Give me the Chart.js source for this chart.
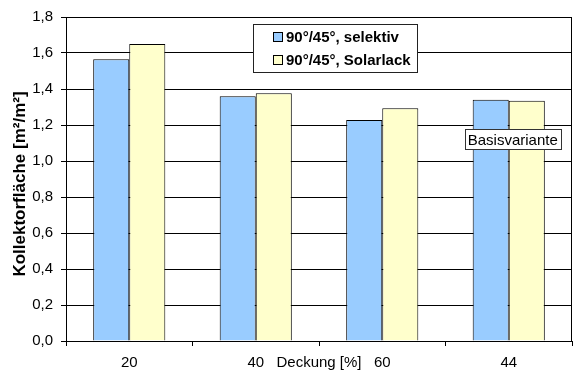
<!DOCTYPE html>
<html>
<head>
<meta charset="utf-8">
<script src="https://cdn.jsdelivr.net/npm/chart.js@4"></script>
<style>
  html, body { margin: 0; padding: 0; background: #fff; }
  #wrap { width: 573px; height: 372px; }
</style>
</head>
<body>
<div id="wrap"><canvas id="kollektorChart" width="573" height="372"></canvas></div>
<script>
const categories = ['20', '40', '60', '44'];
const selektiv = [1.565, 1.36, 1.228, 1.34];
const solarlack = [1.65, 1.377, 1.293, 1.335];
const seriesNames = ['90°/45°, selektiv', '90°/45°, Solarlack'];
const yMax = 1.8;
const yStep = 0.2;

const FONT = '"Liberation Sans", Arial, sans-serif';

// frame, y title, legend box, x title and the "Basisvariante" note
const extras = {
  id: 'extras',
  afterDraw(chart) {
    const ctx = chart.ctx;
    const a = chart.chartArea;
    const x = chart.scales.x, y = chart.scales.y;
    ctx.save();
    ctx.strokeStyle = '#000';
    ctx.lineWidth = 1;
    ctx.strokeRect(Math.round(a.left) + 0.5, Math.round(a.top) + 0.5,
      Math.round(a.right - a.left) - 1, Math.round(a.bottom - a.top));

    // y title
    ctx.save();
    ctx.translate(20, 184);
    ctx.rotate(-Math.PI / 2);
    ctx.font = 'bold 17px ' + FONT;
    ctx.textAlign = 'center';
    ctx.textBaseline = 'middle';
    ctx.fillStyle = '#000';
    ctx.fillText('Kollektorfläche [m²/m²]', 0, 0);
    ctx.restore();

    // legend
    const lx = 253, ly = 24, lw = 164, lh = 48;
    ctx.fillStyle = '#fff';
    ctx.fillRect(lx, ly, lw, lh);
    ctx.strokeStyle = '#222';
    ctx.strokeRect(lx + 0.5, ly + 0.5, lw, lh);
    ctx.font = 'bold 15px ' + FONT;
    ctx.textBaseline = 'middle';
    ctx.textAlign = 'left';
    chart.data.datasets.forEach((ds, i) => {
      const cy = ly + 13 + i * 23;
      ctx.fillStyle = ds.backgroundColor;
      ctx.fillRect(273, cy - 5, 10, 10);
      ctx.strokeStyle = '#000';
      ctx.strokeRect(273.5, cy - 4.5, 9, 9);
      ctx.fillStyle = '#000';
      ctx.fillText(ds.label, 286, cy + 1);
    });

    // x axis title on the tick line
    ctx.font = '15px ' + FONT;
    ctx.textAlign = 'center';
    ctx.fillStyle = '#000';
    ctx.fillText('Deckung [%]', (a.left + a.right) / 2, 363);

    // Basisvariante note
    const bx = x.getPixelForValue(3) + 4, by = y.getPixelForValue(1.12);
    const bw = 96, bh = 20;
    ctx.fillStyle = '#fff';
    ctx.fillRect(Math.round(bx - bw / 2), Math.round(by - bh / 2), bw, bh);
    ctx.strokeStyle = '#333';
    ctx.strokeRect(Math.round(bx - bw / 2) + 0.5, Math.round(by - bh / 2) + 0.5, bw, bh);
    ctx.fillStyle = '#000';
    ctx.fillText('Basisvariante', bx, by + 1);
    ctx.restore();
  }
};

new Chart(document.getElementById('kollektorChart'), {
  type: 'bar',
  data: {
    labels: categories,
    datasets: [
      { label: seriesNames[0], data: selektiv, backgroundColor: '#99ccff', borderColor: '#000', borderWidth: 1 },
      { label: seriesNames[1], data: solarlack, backgroundColor: '#ffffcc', borderColor: '#000', borderWidth: 1 },
    ],
  },
  options: {
    responsive: false,
    animation: false,
    layout: { padding: { top: 13, right: 1, left: 0, bottom: 0 } },
    datasets: { bar: { categoryPercentage: 0.57, barPercentage: 1.0 } },
    plugins: { legend: { display: false }, tooltip: { enabled: false } },
    scales: {
      x: {
        afterFit: s => { s.height = 31; },
        grid: { display: true, drawOnChartArea: false, color: '#000', tickLength: 5, offset: true },
        border: { color: '#000' },
        ticks: { color: '#000', font: { family: FONT, size: 15 }, padding: 8 },
      },
      y: {
        min: 0,
        max: yMax,
        afterFit: s => { s.width = 66; },
        grid: { color: '#000', tickLength: 5 },
        border: { color: '#000' },
        ticks: {
          stepSize: yStep,
          color: '#000',
          padding: 8,
          font: { family: FONT, size: 15 },
          callback: v => v.toFixed(1).replace('.', ','),
        },
      },
    },
  },
  plugins: [extras],
});
</script>
</body>
</html>
